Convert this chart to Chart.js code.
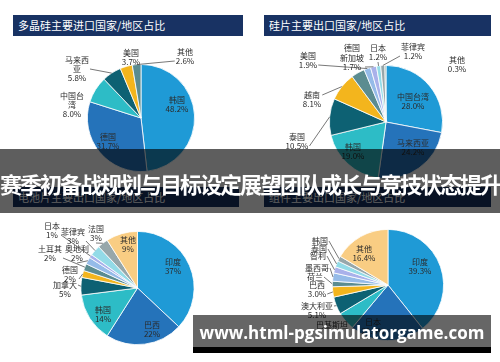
<!DOCTYPE html>
<html>
<head>
<meta charset="utf-8">
<script src="https://cdn.jsdelivr.net/npm/chart.js@4.4.1/dist/chart.umd.min.js"></script>
<style>
  html, body { margin: 0; padding: 0; background: #fff; }
  #wrap { position: relative; width: 500px; height: 362px; overflow: hidden; font-family: "Noto Sans CJK SC", sans-serif; }
  canvas { position: absolute; }
  .bar { position: absolute; height: 21px; background: #183263; color: #fff; font-size: 11px; line-height: 21px; padding-left: 5px; box-sizing: border-box; white-space: nowrap; }
  #banner { position: absolute; left: 0; top: 149px; width: 500px; height: 64px; background: rgba(0,0,0,0.63); color: #fff;
            font-size: 22px; font-weight: bold; letter-spacing: -2px; line-height: 68px; text-align: center; white-space: nowrap; z-index: 5; }
  #mark { position: absolute; left: 193px; top: 315px; width: 298px; height: 32px; background: rgba(0,0,0,0.6); color: #fff;
          font-family: "Open Sans", sans-serif; font-weight: bold; font-size: 17px; line-height: 36px; text-align: center; z-index: 5; }
  #markEdge { position: absolute; left: 193px; top: 347px; width: 298px; height: 6px; background: #000; z-index: 5; }
</style>
</head>
<body>
<div id="wrap">
  <div class="bar" style="left:13px;top:15px;width:230px">多晶硅主要进口国家/地区占比</div>
  <div class="bar" style="left:264px;top:15px;width:227px">硅片主要出口国家/地区占比</div>
  <div class="bar" style="left:13px;top:187px;width:226px;height:20px">电池片主要出口国家/地区占比</div>
  <div class="bar" style="left:264px;top:187px;width:227px;height:20px">组件主要出口国家/地区占比</div>
  <canvas id="c1" width="250" height="140" style="left:0;top:40px"></canvas>
  <canvas id="c2" width="250" height="140" style="left:250px;top:40px"></canvas>
  <canvas id="c3" width="250" height="152" style="left:0;top:210px"></canvas>
  <canvas id="c4" width="250" height="152" style="left:250px;top:210px"></canvas>
  <div id="banner">赛季初备战规划与目标设定展望团队成长与竞技状态提升</div>
  <div id="mark">www.html-pgsimulatorgame.com</div>
  <div id="markEdge"></div>
</div>
<script>
// data
const siliconLabels = ['韩国', '德国', '中国台湾', '马来西亚', '美国', '其他'];
const siliconValues = [48.2, 31.7, 8.0, 5.8, 3.7, 2.6];

const waferLabels = ['中国台湾', '马来西亚', '韩国', '泰国', '越南', '德国', '美国', '新加坡', '日本', '菲律宾', '其他'];
const waferValues = [28.0, 24.2, 19.0, 10.5, 8.1, 3.9, 1.9, 1.7, 1.2, 1.2, 0.3];

const cellLabels = ['印度', '巴西', '韩国', '加拿大', '德国', '土耳其', '奥地利', '日本', '菲律宾', '法国', '其他'];
const cellValues = [37, 22, 14, 5, 2, 2, 2, 1, 3, 3, 9];

const moduleLabels = ['印度', '日本', '巴基斯坦', '澳大利亚', '巴西', '荷兰', '墨西哥', '智利', '泰国', '韩国', '其他'];
const moduleValues = [39.3, 21.8, 5.3, 5.1, 3.0, 1.6, 2.4, 1.8, 1.8, 1.5, 16.4];

// colours
const C = { lb: '#1f9ad6', mb: '#2573ba', tl: '#2dbcc6', dt: '#0d6173', gd: '#f3b51d', gt: '#5b8c90',
            sb: '#95bbe8', lv: '#a9b1ea', cy: '#93dbe7', gy: '#97a7aa', pc: '#f9cd83' };
const siliconColors = [C.lb, C.mb, C.tl, C.dt, C.gd, C.gt];
const waferColors = [C.lb, C.mb, C.tl, C.dt, C.gd, C.gt, C.sb, C.lv, C.cy, C.gy, '#6f9a8c'];
const cellColors = [C.lb, C.mb, C.tl, C.dt, C.gd, C.gt, C.sb, C.lv, C.cy, C.gy, C.pc];
const moduleColors = cellColors;

// label placement, offsets from the pie centre
const siliconLayout = [
  { dx: 36, dy: -18 }, { dx: -33, dy: 19 },
  { dx: -69, dy: -22, wrap: 3 }, { dx: -64, dy: -58, wrap: 3, leader: true, line: 1 },
  { dx: -10, dy: -65 }, { dx: 44, dy: -66, leader: true }
];
const waferLayout = [
  { dx: 27, dy: -25 }, { dx: 27, dy: 21 }, { dx: -33, dy: 25 },
  { dx: -89, dy: 15, leader: true }, { dx: -74, dy: -27, leader: true, line: 0 },
  { dx: -34, dy: -74, pct: false }, { dx: -78, dy: -66, leader: true },
  { dx: -34, dy: -64, leader: true }, { dx: -8, dy: -74, leader: true },
  { dx: 27, dy: -75, leader: true }, { dx: 71, dy: -62 }
];
const cellLayout = [
  { dx: 35.5, dy: -26 }, { dx: 14.5, dy: 37 }, { dx: -34.5, dy: 22 },
  { dx: -72.5, dy: -3, leader: true, line: 0 }, { dx: -67.5, dy: -18, leader: true },
  { dx: -87.5, dy: -39, leader: true }, { dx: -60.5, dy: -39, leader: true },
  { dx: -85.5, dy: -62, leader: true }, { dx: -64.5, dy: -56, leader: true },
  { dx: -41.5, dy: -59, leader: true }, { dx: -9.5, dy: -48 }
];
const moduleLayout = [
  { dx: 32, dy: -23 }, { dx: -15, dy: 37 }, { dx: -56, dy: 40, pct: false },
  { dx: -71, dy: 21, leader: true, line: 0 }, { dx: -71, dy: 0, leader: true },
  { dx: -73, dy: -8, pct: false, leader: true }, { dx: -71, dy: -17, pct: false, leader: true },
  { dx: -70, dy: -29, pct: false, leader: true }, { dx: -69, dy: -36, pct: false, leader: true },
  { dx: -68, dy: -44, pct: false, leader: true }, { dx: -24, dy: -36 }
];

const pieLabels = {
  id: 'pieLabels',
  afterDatasetsDraw(chart, args, opts) {
    const ctx = chart.ctx;
    const meta = chart.getDatasetMeta(0);
    const values = chart.data.datasets[0].data;
    const names = chart.data.labels;
    const lh = 9;
    ctx.save();
    ctx.font = '8px "Noto Sans CJK SC"';
    ctx.textAlign = 'center';
    ctx.textBaseline = 'middle';
    ctx.strokeStyle = '#555';
    ctx.lineWidth = 0.8;
    meta.data.forEach((arc, i) => {
      const L = opts.layout[i];
      if (!L) return;
      const p = arc.getProps(['x', 'y', 'startAngle', 'endAngle', 'outerRadius'], true);
      const name = names[i];
      const lines = [];
      if (L.wrap) { for (let k = 0; k < name.length; k += L.wrap) lines.push(name.slice(k, k + L.wrap)); }
      else lines.push(name);
      if (L.pct !== false) lines.push(values[i].toFixed(opts.decimals) + '%');
      const cx = p.x + L.dx, cy = p.y + L.dy;
      let w = 0;
      ctx.fillStyle = '#2b2b2b';
      lines.forEach((t, k) => {
        ctx.fillText(t, cx, cy + k * lh);
        w = Math.max(w, ctx.measureText(t).width);
      });
      if (L.leader) {
        const mid = (p.startAngle + p.endAngle) / 2;
        const ex = p.x + Math.cos(mid) * p.outerRadius;
        const ey = p.y + Math.sin(mid) * p.outerRadius;
        let sx, sy;
        if (Math.abs(ex - cx) < w / 2) {
          sx = cx; sy = cy + (lines.length - 1) * lh + 5;
        } else {
          const k = L.line !== undefined ? L.line : lines.length - 1;
          sx = ex < cx ? cx - w / 2 - 1 : cx + w / 2 + 1;
          sy = cy + k * lh;
        }
        ctx.beginPath();
        ctx.moveTo(sx, sy);
        ctx.lineTo(ex, ey);
        ctx.stroke();
      }
    });
    ctx.restore();
  }
};

function makePie(id, labels, values, colors, layout, decimals, pad) {
  new Chart(document.getElementById(id), {
    type: 'pie',
    data: { labels, datasets: [{ data: values, backgroundColor: colors, borderColor: '#fff', borderWidth: 0.8 }] },
    options: {
      responsive: false,
      animation: false,
      layout: { padding: pad },
      plugins: { legend: { display: false }, tooltip: { enabled: false }, pieLabels: { layout, decimals } }
    },
    plugins: [pieLabels]
  });
}

makePie('c1', siliconLabels, siliconValues, siliconColors, siliconLayout, 1, { left: 87, right: 55, top: 24, bottom: 8 });
makePie('c2', waferLabels, waferValues, waferColors, waferLayout, 1, { left: 79, right: 57, top: 25, bottom: 1 });
makePie('c3', cellLabels, cellValues, cellColors, cellLayout, 0, { left: 80, right: 55, top: 21, bottom: 17 });
makePie('c4', moduleLabels, moduleValues, moduleColors, moduleLayout, 1, { left: 82, right: 56, top: 19, bottom: 21 });
</script>
</body>
</html>
